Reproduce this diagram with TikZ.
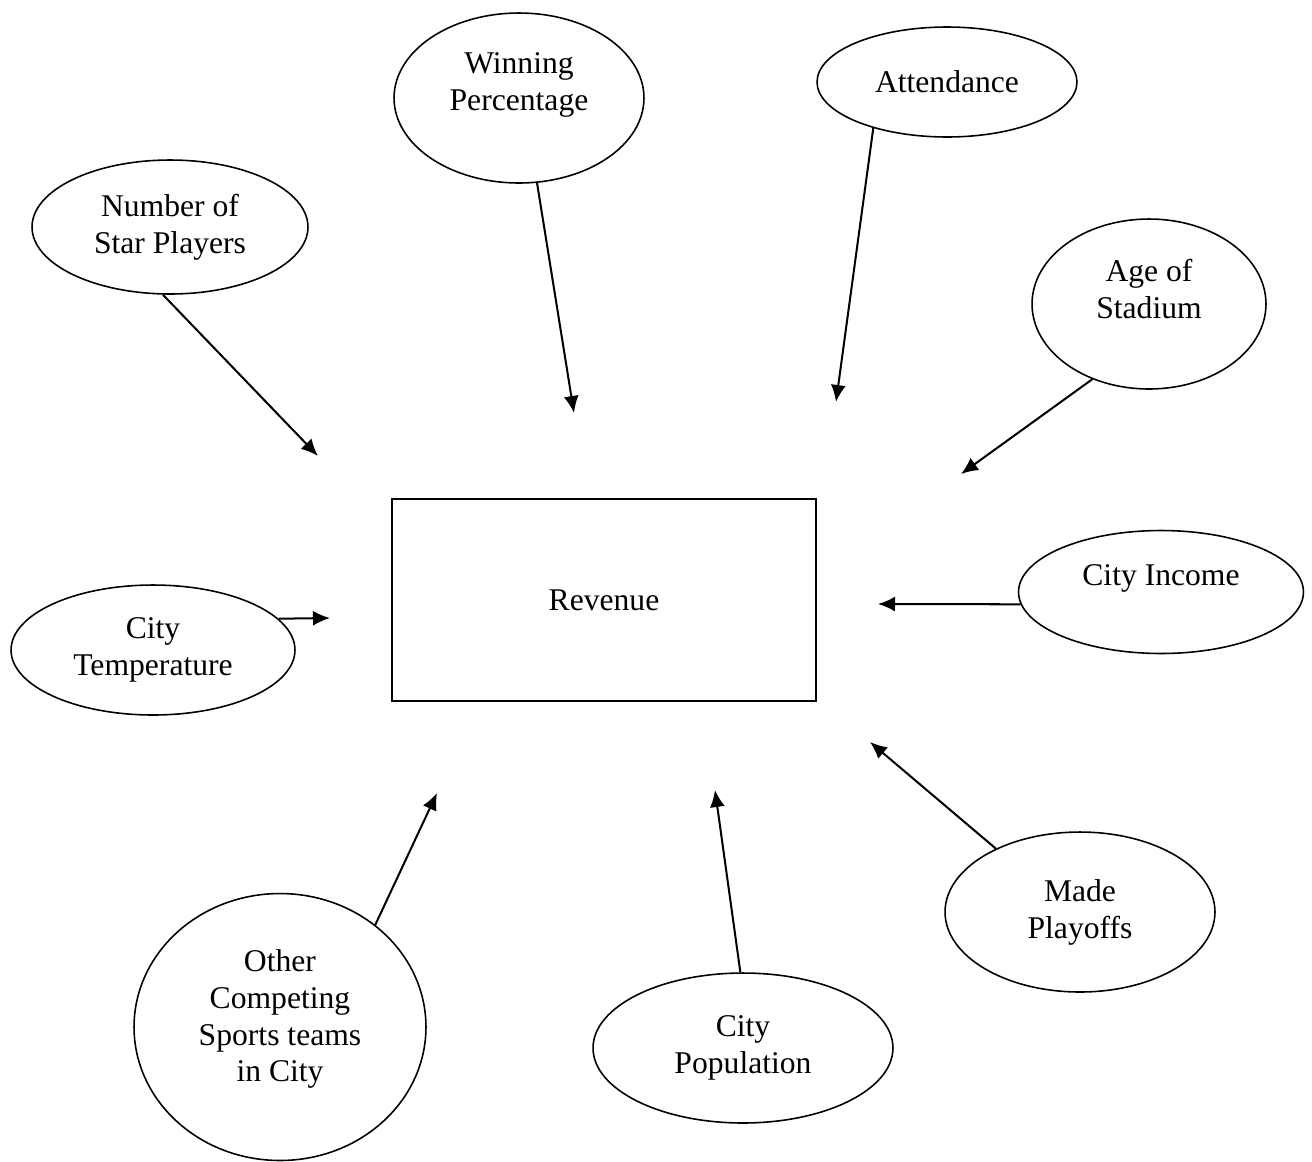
\documentclass[tikz,border=0pt]{standalone}
\usepackage{fontspec}
\setmainfont{Liberation Serif}
\usetikzlibrary{arrows.meta,shapes.geometric}
\begin{document}
\begin{tikzpicture}[x=0.02cm,y=-0.02cm,
  txt/.style={align=center,font=\fontsize{18}{21}\selectfont},
  bub/.style={draw,ellipse,line width=0.9pt,inner sep=0pt,txt},
  arr/.style={line width=1.15pt,-{Latex[length=3.4mm,width=3mm]}}]
\useasboundingbox (0,0) rectangle (1312,1161);
\node[draw,line width=0.9pt,minimum width=8.48cm,minimum height=4.04cm,txt] (rev) at (604,600) {Revenue};
\node[bub,minimum width=5cm,minimum height=3.4cm,label={[txt,yshift=2.6mm]center:{Winning\\Percentage}}] (win) at (519,98) {};
\node[bub,minimum width=5.2cm,minimum height=2.2cm] (att) at (947,82) {Attendance};
\node[bub,minimum width=5.52cm,minimum height=2.68cm] (star) at (170,227) {Number of\\Star Players};
\node[bub,minimum width=4.68cm,minimum height=3.4cm,label={[txt,yshift=3mm]center:{Age of\\Stadium}}] (age) at (1149,304) {};
\node[bub,minimum width=5.7cm,minimum height=2.46cm,label={[txt,yshift=2.8mm]center:{City Income}}] (inc) at (1161,592) {};
\node[bub,minimum width=5.68cm,minimum height=2.6cm] (temp) at (153,650) {City\\Temperature};
\node[bub,minimum width=5.4cm,minimum height=3.2cm] (play) at (1080,912) {Made\\Playoffs};
\node[bub,minimum width=6cm,minimum height=3cm] (pop) at (743,1048) {City\\Population};
\node[bub,minimum width=5.84cm,minimum height=5.34cm,label={[txt,yshift=1.6mm]center:{Other\\Competing\\Sports teams\\in City}}] (oth) at (280,1027) {};
\coordinate (tstar) at (318,456);
\coordinate (twin) at (574,413);
\coordinate (tatt) at (836,402);
\coordinate (tage) at (961,474);
\coordinate (tinc) at (878,604);
\coordinate (ttemp) at (330,618);
\coordinate (tplay) at (870,742);
\coordinate (tpop) at (715,790);
\coordinate (toth) at (437,793);
\draw[arr] (star.-96) -- (tstar);
\draw[arr] (win.-78) -- (twin);
\draw[arr] (att.-148) -- (tatt);
\draw[arr] (age.-127) -- (tage);
\draw[arr] (inc.185) -- (tinc);
\draw[arr] (temp.14.6) -- (ttemp);
\draw[arr] (play.143.8) -- (tplay);
\draw[arr] (pop.92.7) -- (tpop);
\draw[arr] (oth.47.6) -- (toth);
\end{tikzpicture}
\end{document}
